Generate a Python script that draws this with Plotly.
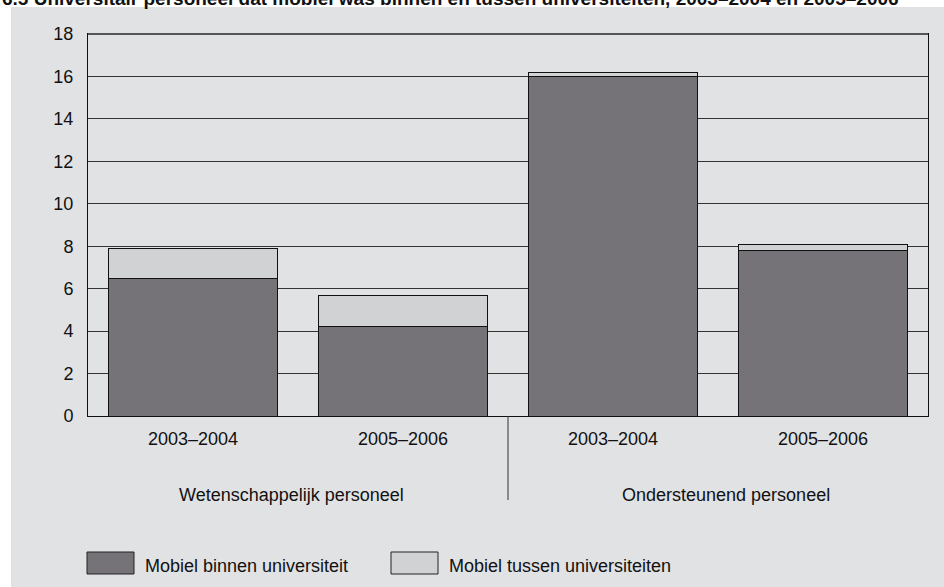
import plotly.graph_objects as go

# data
groups = ["Wetenschappelijk personeel", "Wetenschappelijk personeel",
          "Ondersteunend personeel", "Ondersteunend personeel"]
periods = ["2003–2004", "2005–2006", "2003–2004", "2005–2006"]
binnen = [6.5, 4.2, 16.0, 7.8]      # Mobiel binnen universiteit
tussen = [1.4, 1.5, 0.2, 0.3]       # Mobiel tussen universiteiten
series_names = ["Mobiel binnen universiteit", "Mobiel tussen universiteiten"]
group_labels = ["Wetenschappelijk personeel", "Ondersteunend personeel"]
y_ticks = [0, 2, 4, 6, 8, 10, 12, 14, 16, 18]

title = "6.5 Universitair personeel dat mobiel was binnen en tussen universiteiten, 2003–2004 en 2005–2006"

DARK = "#767378"
LIGHT = "#d1d2d4"
PANEL = "#e1e2e4"
FONT = "Liberation Sans, Arial, sans-serif"

# unique category keys, shown with the period only
keys = [f"{g}|{p}" for g, p in zip(groups, periods)]

fig = go.Figure()
fig.add_trace(go.Bar(x=keys, y=binnen, name=series_names[0],
                     marker=dict(color=DARK, line=dict(color="#111", width=1))))
fig.add_trace(go.Bar(x=keys, y=tussen, name=series_names[1],
                     marker=dict(color=LIGHT, line=dict(color="#111", width=1))))

W, H = 944, 587
L, R, T, B = 88, 16, 34, 171
pw, ph = W - L - R, H - T - B


def px(x):
    return (x - L) / pw


def py(y):
    return (H - B - y) / ph


shapes = [
    # grey panel behind everything
    dict(type="rect", xref="paper", yref="paper", layer="below",
         x0=px(11), x1=px(W + 5), y0=py(H + 5), y1=py(7),
         fillcolor=PANEL, line=dict(width=0)),
    # slightly heavier top border, as in the print
    dict(type="line", xref="paper", yref="paper",
         x0=0, x1=1, y0=1, y1=1, line=dict(color="#555", width=2)),
    # divider between the two groups
    dict(type="line", xref="paper", yref="paper",
         x0=0.5, x1=0.5, y0=0, y1=py(500),
         line=dict(color="#333", width=1)),
    # legend boxes
    dict(type="rect", xref="paper", yref="paper",
         x0=px(87), x1=px(134), y0=py(574), y1=py(552),
         fillcolor=DARK, line=dict(color="#222", width=1)),
    dict(type="rect", xref="paper", yref="paper",
         x0=px(391), x1=px(438), y0=py(574), y1=py(552),
         fillcolor=LIGHT, line=dict(color="#222", width=1)),
]

annotations = [
    # the title is cropped at the top edge in the source image
    dict(text=title, xref="paper", yref="paper", x=px(0), y=py(-2),
         xanchor="left", yanchor="middle", showarrow=False,
         font=dict(size=19, color="#111", family=FONT, weight="bold")),
    dict(text=group_labels[0], xref="paper", yref="paper", x=px(291), y=py(495),
         xanchor="center", yanchor="middle", showarrow=False,
         font=dict(size=18, color="#111", family=FONT)),
    dict(text=group_labels[1], xref="paper", yref="paper", x=px(726), y=py(495),
         xanchor="center", yanchor="middle", showarrow=False,
         font=dict(size=18, color="#111", family=FONT)),
    dict(text=series_names[0], xref="paper", yref="paper", x=px(143), y=py(566),
         xanchor="left", yanchor="middle", showarrow=False,
         font=dict(size=18, color="#111", family=FONT)),
    dict(text=series_names[1], xref="paper", yref="paper", x=px(447), y=py(566),
         xanchor="left", yanchor="middle", showarrow=False,
         font=dict(size=18, color="#111", family=FONT)),
]

fig.update_layout(
    width=W, height=H,
    margin=dict(l=L, r=R, t=T, b=B),
    barmode="stack", bargap=0.195,
    paper_bgcolor="white", plot_bgcolor="white",
    showlegend=False,
    font=dict(family=FONT, size=18, color="#111"),
    shapes=shapes, annotations=annotations,
)
fig.update_xaxes(
    type="category", tickvals=keys, ticktext=periods,
    showgrid=False, ticks="", ticklabelstandoff=6,
    showline=True, linecolor="#111", linewidth=1, mirror=True,
    tickfont=dict(size=18),
)
fig.update_yaxes(
    range=[0, 18], tickvals=y_ticks, showgrid=True,
    gridcolor="#333", gridwidth=1, zeroline=False,
    ticks="", ticklabelstandoff=10,
    showline=True, linecolor="#111", linewidth=1, mirror=True,
    tickfont=dict(size=18),
)

# drop the browser's default page margin so the figure sits at (0, 0)
fig.write_html("out.html", config={"displayModeBar": False},
               post_script="document.body.style.margin='0';")
